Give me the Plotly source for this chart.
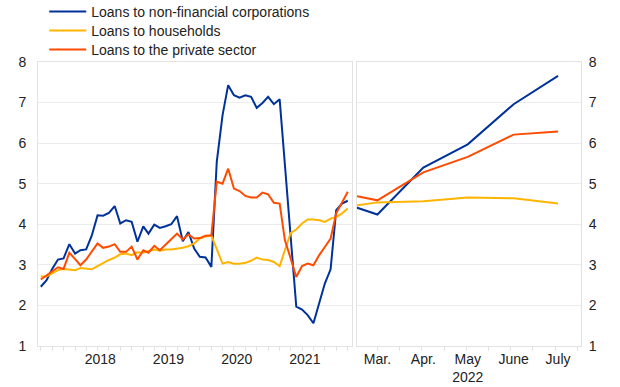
import pandas as pd
import plotly.graph_objects as go

# ---- data ----
months_hist = pd.date_range("2017-08-01", "2022-02-01", freq="MS")
months_2022 = pd.date_range("2022-02-01", "2022-07-01", freq="MS")

nfc_hist = [2.46, 2.62, 2.90, 3.13, 3.16, 3.51, 3.28, 3.36, 3.38, 3.72,
            4.22, 4.21, 4.28, 4.45, 4.02, 4.10, 4.06, 3.57, 3.95, 3.77,
            3.99, 3.91, 3.95, 4.00, 4.20, 3.58, 3.81, 3.40, 3.20, 3.18,
            2.95, 5.54, 6.69, 7.43, 7.18, 7.12, 7.18, 7.14, 6.87, 6.99,
            7.14, 6.96, 7.08, 5.40, 3.69, 1.97, 1.90, 1.76, 1.56, 2.09,
            2.54, 2.89, 4.35, 4.51, 4.58]
hh_hist = [2.71, 2.71, 2.79, 2.87, 2.90, 2.89, 2.87, 2.92, 2.91, 2.89,
           2.97, 3.05, 3.12, 3.18, 3.26, 3.28, 3.24, 3.31, 3.30, 3.34,
           3.38, 3.35, 3.38, 3.38, 3.40, 3.42, 3.46, 3.53, 3.65, 3.70,
           3.72, 3.38, 3.03, 3.07, 3.03, 3.03, 3.05, 3.10, 3.18, 3.13,
           3.12, 3.07, 2.97, 3.36, 3.79, 3.87, 4.02, 4.12, 4.12, 4.10,
           4.06, 4.14, 4.18, 4.27, 4.39]
ps_hist = [2.64, 2.74, 2.83, 2.94, 2.90, 3.30, 3.14, 2.99, 3.13, 3.34,
           3.53, 3.42, 3.45, 3.51, 3.32, 3.32, 3.45, 3.13, 3.36, 3.30,
           3.47, 3.36, 3.51, 3.63, 3.77, 3.63, 3.75, 3.65, 3.66, 3.72,
           3.73, 5.05, 5.00, 5.37, 4.88, 4.82, 4.70, 4.66, 4.66, 4.78,
           4.74, 4.53, 4.51, 3.61, 3.16, 2.70, 2.97, 3.03, 2.99, 3.24,
           3.44, 3.65, 4.27, 4.55, 4.80]

nfc_2022 = [4.58, 4.24, 5.40, 5.97, 6.96, 7.66]
hh_2022 = [4.39, 4.54, 4.57, 4.66, 4.64, 4.51]
ps_2022 = [4.80, 4.59, 5.28, 5.66, 6.21, 6.29]

year_ticks = ["2018-06-16", "2019-06-16", "2020-06-16", "2021-06-16"]
year_labels = ["2018", "2019", "2020", "2021"]
month_ticks = ["2022-03-01", "2022-04-01", "2022-05-01", "2022-06-01", "2022-07-01"]
month_labels = ["Mar.", "Apr.", "May<br>2022", "June", "July"]

series = [
    ("Loans to non-financial corporations", "#003299", nfc_hist, nfc_2022, "legend"),
    ("Loans to households", "#FFB400", hh_hist, hh_2022, "legend2"),
    ("Loans to the private sector", "#FF4B00", ps_hist, ps_2022, "legend3"),
]

fig = go.Figure()
for name, color, hist, recent, leg in series:
    fig.add_trace(go.Scatter(x=months_hist, y=hist, name=name, mode="lines",
                             line=dict(color=color, width=2), xaxis="x", yaxis="y",
                             legend=leg))
    fig.add_trace(go.Scatter(x=months_2022, y=recent, name=name, mode="lines",
                             line=dict(color=color, width=2), xaxis="x2", yaxis="y2",
                             showlegend=False))

frame = "#e2e2e2"
grid = "#ececec"
font = dict(family="Liberation Sans, Arial, sans-serif", size=14, color="#222222")


def legend_at(ypos):
    return dict(x=0.0115, y=ypos, xanchor="left", yanchor="middle",
                bgcolor="rgba(0,0,0,0)", font=font, itemwidth=37)


fig.update_layout(
    width=620, height=387,
    margin=dict(l=38, r=39, t=62, b=41, autoexpand=False),
    paper_bgcolor="white", plot_bgcolor="white",
    font=font,
    showlegend=True,
    legend=legend_at(1.1761),
    legend2=legend_at(1.1092),
    legend3=legend_at(1.0423),
    xaxis=dict(domain=[0, 0.5777], type="date", anchor="y",
               range=["2017-07-17", "2022-02-22"],
               tickmode="array", tickvals=year_ticks, ticktext=year_labels,
               ticks="", showgrid=False, zeroline=False,
               showline=True, mirror=True, linecolor=frame, linewidth=1,
               minor=dict(ticks="outside", ticklen=4, tickcolor=frame,
                          dtick="M2", tick0="2017-08-01", showgrid=False)),
    yaxis=dict(domain=[0, 1], anchor="x", range=[1, 8], dtick=1,
               ticks="", showgrid=True, gridcolor=grid, zeroline=False,
               showline=True, mirror=True, linecolor=frame, linewidth=1,
               ticklabelstandoff=8),
    xaxis2=dict(domain=[0.5869, 1], type="date", anchor="y2",
                range=["2022-02-15", "2022-07-16 12:00"],
                tickmode="array", tickvals=month_ticks, ticktext=month_labels,
                ticks="", showgrid=False, zeroline=False,
                showline=True, mirror=True, linecolor=frame, linewidth=1,
                minor=dict(ticks="outside", ticklen=4, tickcolor=frame,
                           dtick=1296000000, tick0="2022-03-01", showgrid=False)),
    yaxis2=dict(domain=[0, 1], anchor="x2", side="right", range=[1, 8], dtick=1,
                ticks="", showgrid=True, gridcolor=grid, zeroline=False,
                showline=True, mirror=True, linecolor=frame, linewidth=1,
                ticklabelstandoff=4),
)

fig.write_html("out.html", config={"displayModeBar": False},
               post_script="document.body.style.margin='0px';document.body.style.padding='0px';")
